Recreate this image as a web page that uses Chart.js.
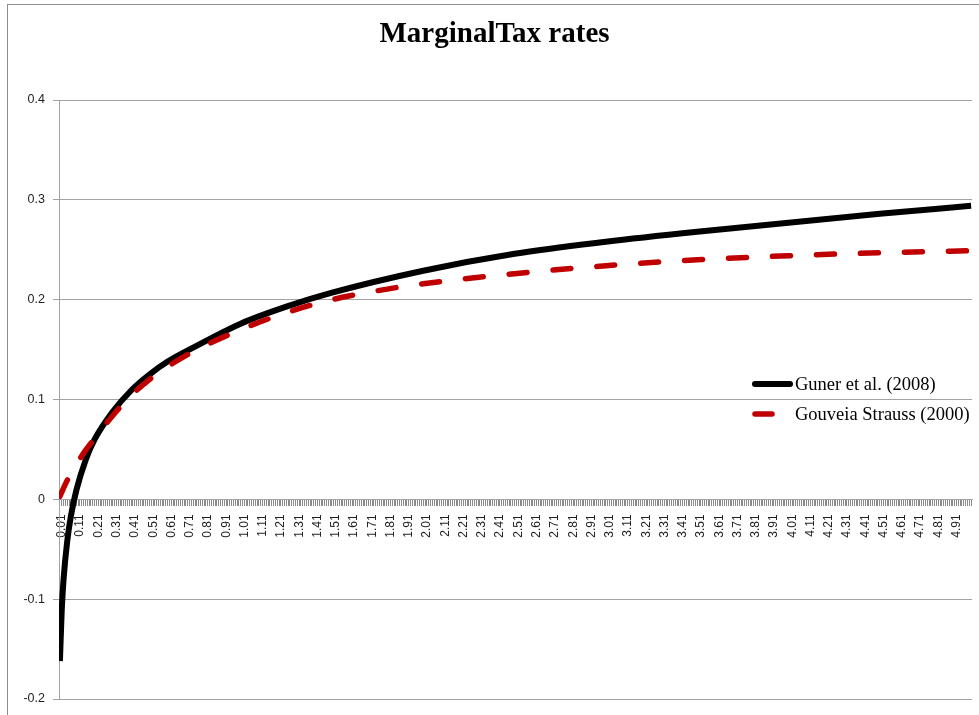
<!DOCTYPE html>
<html>
<head>
<meta charset="utf-8">
<title>MarginalTax rates</title>
<script src="https://cdn.jsdelivr.net/npm/chart.js@4"></script>
<style>
  html, body { margin: 0; padding: 0; background: #ffffff; }
  #wrap { width: 979px; height: 715px; }
</style>
</head>
<body>
<div id="wrap"><canvas id="chart" width="979" height="715"></canvas></div>
<script>
// Income levels (x) and marginal tax rates (y) for each schedule
const gunerIncome = [0.01, 0.02, 0.03, 0.05, 0.07, 0.10, 0.15, 0.20, 0.30, 0.40, 0.50, 0.60, 0.75, 1.00, 1.25, 1.50, 2.00, 2.50, 3.00, 3.50, 4.00, 4.50, 5.00];
const gunerRate   = [-0.162, -0.111, -0.080, -0.042, -0.017, 0.009, 0.039, 0.060, 0.088, 0.109, 0.125, 0.138, 0.153, 0.176, 0.193, 0.207, 0.229, 0.246, 0.258, 0.268, 0.277, 0.286, 0.294];

const gsIncome = [0.01, 0.05, 0.10, 0.15, 0.20, 0.30, 0.40, 0.50, 0.60, 0.75, 1.00, 1.25, 1.50, 1.75, 2.00, 2.50, 3.00, 3.50, 4.00, 4.50, 5.00];
const gsRate   = [0.003, 0.019, 0.035, 0.049, 0.061, 0.084, 0.104, 0.120, 0.133, 0.149, 0.170, 0.187, 0.200, 0.209, 0.216, 0.226, 0.234, 0.240, 0.244, 0.247, 0.249];

const seriesNames = ['Guner et al. (2008)', 'Gouveia Strauss (2000)'];

// Category ticks along the income axis: 0.01 .. 5.00, labelled every tenth one
const incomeTicks = [];
for (let i = 1; i <= 500; i++) incomeTicks.push(i / 100);
const labelEvery = 10;

const yTicks = [-0.2, -0.1, 0, 0.1, 0.2, 0.3, 0.4];

const toPoints = (xs, ys) => xs.map((x, i) => ({ x: x, y: ys[i] }));

// Frame around the whole chart
const framePlugin = {
  id: 'frame',
  beforeDraw(chart) {
    const ctx = chart.ctx;
    ctx.save();
    ctx.fillStyle = '#ffffff';
    ctx.fillRect(0, 0, chart.width, chart.height);
    ctx.strokeStyle = '#8c8c8c';
    ctx.lineWidth = 1;
    ctx.strokeRect(7.5, 4.5, chart.width + 20, chart.height + 20);
    ctx.restore();
  }
};

// Legend drawn inside the plot area, on the right
const insideLegend = {
  id: 'insideLegend',
  afterDatasetsDraw(chart) {
    const ctx = chart.ctx;
    const area = chart.chartArea;
    const x0 = area.right - 220;
    const rows = [area.top + 284, area.top + 314];
    ctx.save();
    ctx.font = '18.5px "Liberation Serif", "Times New Roman", serif';
    ctx.textBaseline = 'middle';
    ctx.fillStyle = '#000000';
    chart.data.datasets.forEach((ds, i) => {
      const y = rows[i];
      ctx.strokeStyle = ds.borderColor;
      ctx.lineWidth = ds.borderWidth;
      ctx.lineCap = 'round';
      ctx.setLineDash([]);
      ctx.beginPath();
      if (i === 0) { ctx.moveTo(x0 + 3, y); ctx.lineTo(x0 + 38, y); }
      else { ctx.moveTo(x0 + 3, y); ctx.lineTo(x0 + 20, y); }
      ctx.stroke();
      ctx.fillText(ds.label, x0 + 43, y + 1);
    });
    ctx.restore();
  }
};

const gridGray = '#a3a3a3';
const xTickFont = { family: '"Liberation Sans", Arial, sans-serif', size: 12 };
const yTickFont = { family: '"Liberation Sans", Arial, sans-serif', size: 12.5 };

new Chart(document.getElementById('chart'), {
  type: 'line',
  data: {
    datasets: [
      {
        label: seriesNames[0],
        data: toPoints(gunerIncome, gunerRate),
        borderColor: '#000000',
        borderWidth: 6,
        pointRadius: 0,
        cubicInterpolationMode: 'monotone',
        borderCapStyle: 'butt',
        fill: false,
        order: 1
      },
      {
        label: seriesNames[1],
        data: toPoints(gsIncome, gsRate),
        borderColor: '#c00000',
        borderWidth: 5.5,
        borderDash: [18, 26],
        borderCapStyle: 'round',
        pointRadius: 0,
        cubicInterpolationMode: 'monotone',
        fill: false,
        order: 0
      }
    ]
  },
  options: {
    responsive: false,
    animation: false,
    events: [],
    layout: { padding: { left: 17, right: 7, top: 0, bottom: 16 } },
    plugins: {
      legend: { display: false },
      tooltip: { enabled: false },
      title: {
        display: true,
        text: 'MarginalTax rates',
        color: '#000000',
        font: { family: '"Liberation Serif", "Times New Roman", serif', size: 29, weight: 'bold' },
        padding: { top: 17.3, bottom: 47.9 }
      }
    },
    scales: {
      x: {
        type: 'linear',
        min: 0.005,
        max: 5.005,
        position: { y: 0 },
        afterBuildTicks(scale) {
          scale.ticks = incomeTicks.map(v => ({ value: v }));
        },
        afterFit(scale) {
          scale.paddingLeft = 0;
          scale.paddingRight = 0;
        },
        ticks: {
          autoSkip: false,
          minRotation: 90,
          maxRotation: 90,
          padding: 9,
          labelOffset: 2,
          color: '#1f1f1f',
          font: xTickFont,
          callback: (value, index) => (index % labelEvery === 0 ? value.toFixed(2) : '')
        },
        grid: {
          drawOnChartArea: false,
          drawTicks: true,
          tickLength: 6,
          color: '#8a8a8a',
          lineWidth: 1
        },
        border: { display: true, color: gridGray, width: 1 }
      },
      y: {
        type: 'linear',
        min: -0.2,
        max: 0.4,
        afterFit(scale) { scale.width = 42; },
        afterBuildTicks(scale) {
          scale.ticks = yTicks.map(v => ({ value: v }));
        },
        ticks: {
          padding: 8,
          color: '#1f1f1f',
          font: yTickFont,
          callback: v => (Math.abs(v) < 1e-9 ? '0' : v.toFixed(1))
        },
        grid: {
          color: gridGray,
          lineWidth: 1,
          drawTicks: true,
          tickLength: 6
        },
        border: { display: true, color: gridGray, width: 1 }
      }
    }
  },
  plugins: [framePlugin, insideLegend]
});
</script>
</body>
</html>
